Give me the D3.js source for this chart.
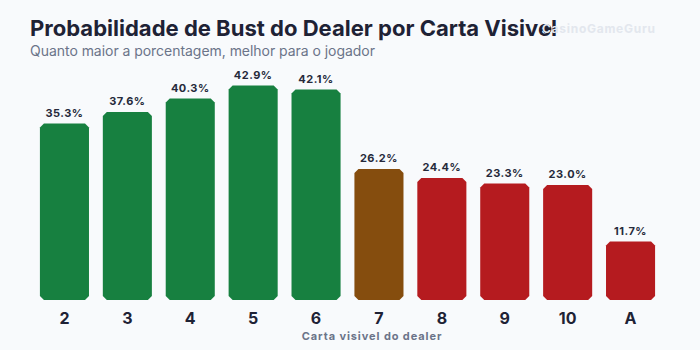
<!DOCTYPE html>
<html>
<head>
<meta charset="utf-8">
<script src="https://cdn.jsdelivr.net/npm/d3@7"></script>
<style>
  html, body { margin: 0; padding: 0; background: #f8fafc; }
  svg { display: block; font-family: Inter, "Noto Sans", sans-serif; }
</style>
</head>
<body>
<div id="chart"></div>
<script>
const cartas   = ["2", "3", "4", "5", "6", "7", "8", "9", "10", "A"];
const bustPct  = [35.3, 37.6, 40.3, 42.9, 42.1, 26.2, 24.4, 23.3, 23.0, 11.7];
const grupo    = ["bom", "bom", "bom", "bom", "bom", "medio", "ruim", "ruim", "ruim", "ruim"];

const palette  = { bom: "#178040", medio: "#854d0e", ruim: "#b51b1f" };

let canvasWidth  = 700;
let canvasHeight = 350;

let data = cartas.map((c, i) => ({ carta: c, valor: bustPct[i], grupo: grupo[i] }));

let x = d3.scaleBand().range([33, 662]).paddingInner(0.22).paddingOuter(0.11).domain(cartas);
let y = d3.scaleLinear().range([300, 75]).domain([0, 45]);

let svg = d3.select("#chart").append("svg")
	.attr("width", canvasWidth)
	.attr("height", canvasHeight);

svg.append("rect").attr("width", canvasWidth).attr("height", canvasHeight).attr("fill", "#f8fafc");

// titulo e subtitulo
svg.append("text")
	.attr("x", 30).attr("y", 36)
	.attr("font-size", 22).attr("font-weight", 700)
	.attr("textLength", 527).attr("lengthAdjust", "spacingAndGlyphs")
	.attr("fill", "#1e2235")
	.text("Probabilidade de Bust do Dealer por Carta Visivel");

svg.append("text")
	.attr("x", 30).attr("y", 56)
	.attr("font-size", 14)
	.attr("textLength", 345)
	.attr("fill", "#6b7489")
	.text("Quanto maior a porcentagem, melhor para o jogador");

// marca d'agua
svg.append("circle").attr("cx", 547).attr("cy", 29).attr("r", 4.5).attr("fill", "#1e2235");
svg.append("text")
	.attr("x", 542).attr("y", 33)
	.attr("font-size", 12).attr("font-weight", 700)
	.attr("textLength", 113)
	.attr("fill", "#e3e7ee")
	.text("CasinoGameGuru");

// barra com cantos chanfrados
function chamfer(x0, y0, w, h, c) {
	return "M" + (x0 + c) + "," + y0 +
		"H" + (x0 + w - c) + "L" + (x0 + w) + "," + (y0 + c) +
		"V" + (y0 + h - c) + "L" + (x0 + w - c) + "," + (y0 + h) +
		"H" + (x0 + c) + "L" + x0 + "," + (y0 + h - c) +
		"V" + (y0 + c) + "Z";
}

svg.append("g")
	.selectAll("path")
	.data(data).enter()
	.append("path")
		.attr("fill", (o) => palette[o.grupo])
		.attr("d", (o) => chamfer(x(o.carta), y(o.valor), x.bandwidth(), y(0) - y(o.valor), 4));

svg.append("g")
	.selectAll("text")
	.data(data).enter()
	.append("text")
		.attr("x", (o) => x(o.carta) + x.bandwidth() / 2)
		.attr("y", (o) => y(o.valor) - 7)
		.attr("text-anchor", "middle")
		.attr("font-size", 11).attr("font-weight", 700)
		.attr("letter-spacing", 0.5)
		.attr("fill", "#262a3b")
		.text((o) => o.valor.toFixed(1) + "%");

let axis = svg.append("g")
	.attr("transform", "translate(0,300)")
	.call(d3.axisBottom(x).tickSize(0).tickPadding(13));
axis.select(".domain").remove();
axis.selectAll(".tick text")
	.attr("font-size", 16).attr("font-weight", 700)
	.attr("font-family", "Inter, sans-serif")
	.attr("fill", "#1e2235");

svg.append("text")
	.attr("x", 372).attr("y", 340)
	.attr("text-anchor", "middle")
	.attr("font-size", 11).attr("font-weight", 700)
	.attr("letter-spacing", 0.9)
	.attr("fill", "#6b7489")
	.text("Carta visivel do dealer");
</script>
</body>
</html>
